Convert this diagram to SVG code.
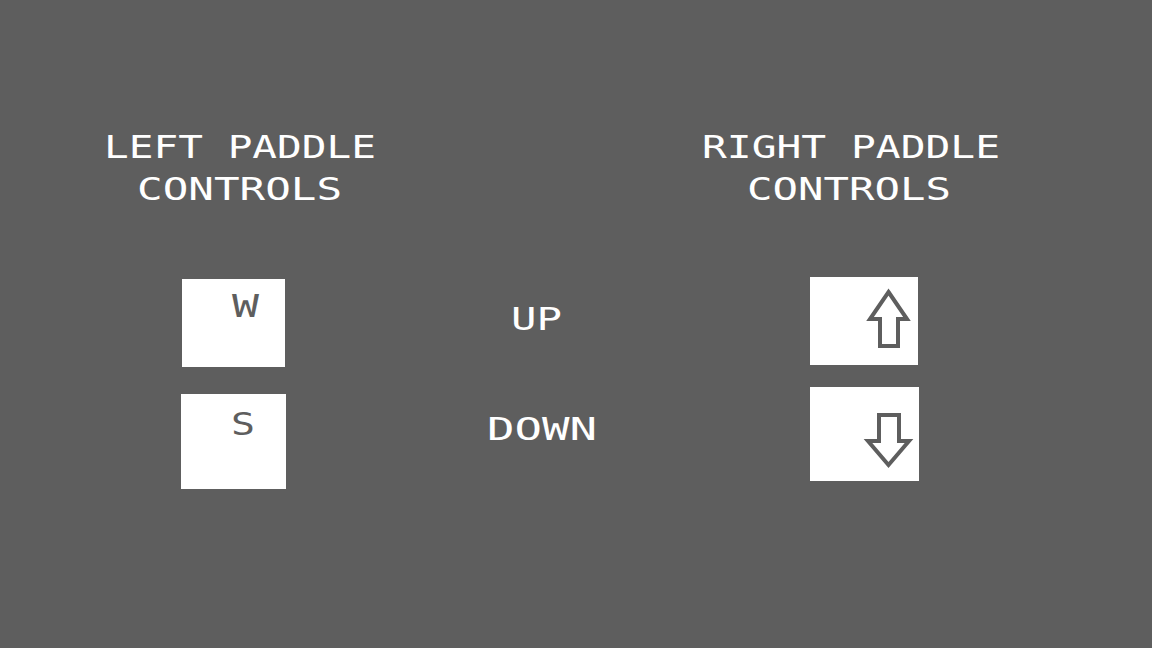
<svg xmlns="http://www.w3.org/2000/svg" width="1152" height="648" viewBox="0 0 1152 648">
<style>
.t{font-family:"DejaVu Sans Mono","Liberation Mono",monospace;font-size:32px;fill:#ffffff}
.k{font-family:"DejaVu Sans Mono","Liberation Mono",monospace;font-size:32px;fill:#5e5e5e}
.key{fill:#ffffff}
.arr{fill:none;stroke:#5e5e5e;stroke-width:4;stroke-linejoin:miter}
</style>
<rect width="1152" height="648" fill="#5e5e5e"/>
<g id="left-title">
<text class="t" x="104" y="158" textLength="272" lengthAdjust="spacingAndGlyphs">LEFT PADDLE</text>
<text class="t" x="137" y="200" textLength="205" lengthAdjust="spacingAndGlyphs">CONTROLS</text>
</g>
<g id="right-title">
<text class="t" x="702" y="158" textLength="298" lengthAdjust="spacingAndGlyphs">RIGHT PADDLE</text>
<text class="t" x="747" y="200" textLength="204" lengthAdjust="spacingAndGlyphs">CONTROLS</text>
</g>
<g id="label-up">
<text class="t" x="511" y="330" textLength="51" lengthAdjust="spacingAndGlyphs">UP</text>
</g>
<g id="label-down">
<text class="t" x="487" y="440" textLength="110" lengthAdjust="spacingAndGlyphs">DOWN</text>
</g>
<g id="key-w">
<rect class="key" x="182" y="279" width="103" height="88"/>
<text class="k" x="232" y="316.5" textLength="27" lengthAdjust="spacingAndGlyphs">W</text>
</g>
<g id="key-s">
<rect class="key" x="181" y="394" width="105" height="95"/>
<text class="k" x="231" y="435" textLength="24" lengthAdjust="spacingAndGlyphs">S</text>
</g>
<g id="key-up">
<rect class="key" x="810" y="277" width="108" height="88"/>
<path class="arr" d="M888.5,292 L907,319 L898,319 L898,346 L880,346 L880,319 L870,319 Z"/>
</g>
<g id="key-down">
<rect class="key" x="810" y="387" width="109" height="94"/>
<path class="arr" d="M879,415 L899,415 L899,441 L909,441 L888.5,465 L868,441 L879,441 Z"/>
</g>
<g id="connectors"></g>
</svg>
